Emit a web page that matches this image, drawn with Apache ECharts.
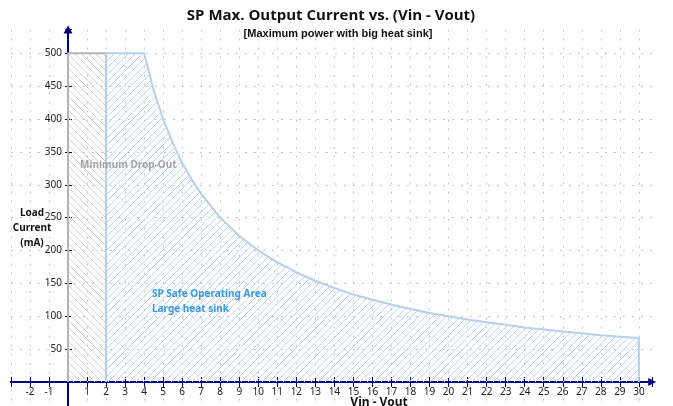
<!DOCTYPE html>
<html>
<head>
<meta charset="utf-8">
<script src="https://cdn.jsdelivr.net/npm/echarts@6/dist/echarts.min.js"></script>
<style>
  html, body { margin: 0; padding: 0; background: #fff; }
  #chart { width: 673px; height: 406px; }
</style>
</head>
<body>
<div id="chart"></div>
<script>
// minimum drop-out region (Vin - Vout, mA)
const dropX = [0, 0, 2, 2];
const dropY = [0, 500, 500, 0];
// safe operating area, big heat sink
const soaX = [2, 2, 4, 4.5, 5, 5.5, 6, 6.5, 7, 8, 9, 10, 11, 12, 13, 14, 15, 16, 17, 18, 19, 20, 21, 22, 23, 24, 25, 26, 27, 28, 29, 30, 30];
const soaY = [0, 500, 500, 444, 400, 364, 333, 308, 286, 250, 222, 200, 182, 167, 154, 143, 133, 125, 118, 111, 105, 100, 95, 91, 87, 83, 80, 77, 74, 71, 69, 67, 0];
// tick labels shown
const xTicks = [-2, -1, 1, 2, 3, 4, 5, 6, 7, 8, 9, 10, 11, 12, 13, 14, 15, 16, 17, 18, 19, 20, 21, 22, 23, 24, 25, 26, 27, 28, 29, 30];
const yTicks = [50, 100, 150, 200, 250, 300, 350, 400, 450, 500];

const navy = '#000080';
const tickFont = 'Noto Sans';

// grid box: x -3..30.7, y -50..536 -> origin lands at (68, 382)
const gLeft = 10.9, gRight = 20.8, gTop = 29.6, gBottom = -8.9;
const W = 673, H = 406;
const zeroX = 68.0, zeroY = 382.0;

// diagonal hatch pattern
function hatch(color, dir, size) {
  const c = document.createElement('canvas');
  c.width = c.height = size;
  const g = c.getContext('2d');
  g.strokeStyle = color;
  g.lineWidth = 1;
  g.beginPath();
  if (dir > 0) {
    g.moveTo(-1, size + 1); g.lineTo(size + 1, -1);
    g.moveTo(-1, 1); g.lineTo(1, -1);
    g.moveTo(size - 1, size + 1); g.lineTo(size + 1, size - 1);
  } else {
    g.moveTo(-1, -1); g.lineTo(size + 1, size + 1);
    g.moveTo(size - 1, -1); g.lineTo(size + 1, 1);
    g.moveTo(-1, size - 1); g.lineTo(1, size + 1);
  }
  g.stroke();
  return { image: c, repeat: 'repeat' };
}

const zip = (xs, ys) => xs.map((x, i) => [x, ys[i]]);

const chart = echarts.init(document.getElementById('chart'));
chart.setOption({
  animation: false,
  grid: { left: gLeft, right: gRight, top: gTop, bottom: gBottom, outerBoundsMode: 'none', containLabel: false },
  xAxis: [
    {
      type: 'value', min: -3, max: 30.7, interval: 1, position: 'bottom',
      offset: -(H - gBottom - zeroY),
      axisLine: { onZero: false, lineStyle: { color: navy, width: 2 }, symbol: ['none', 'triangle'], symbolSize: [8, 8] },
      axisTick: { length: 5, lineStyle: { color: navy } },
      axisLabel: {
        margin: 5, fontSize: 10, fontFamily: tickFont, color: '#222',
        formatter: v => xTicks.includes(v) ? String(v) : ''
      },
      splitLine: { show: true, showMaxLine: false, lineStyle: { color: '#c4c4c4', type: [2, 7] } }
    },
    {
      type: 'value', min: -3, max: 30.7, interval: 1, position: 'top',
      offset: -(zeroY - gTop),
      axisLine: { onZero: false, lineStyle: { color: navy, width: 2 } },
      axisTick: { length: 5, lineStyle: { color: navy } },
      axisLabel: { show: false },
      splitLine: { show: false }
    }
  ],
  yAxis: [
    {
      type: 'value', min: -50, max: 536, interval: 50, position: 'left',
      offset: -(zeroX - gLeft),
      axisLine: { onZero: false, lineStyle: { color: navy, width: 2 }, symbol: ['none', 'triangle'], symbolSize: [9, 8] },
      axisTick: { length: 3, lineStyle: { color: navy } },
      axisLabel: {
        margin: 6, fontSize: 10, fontFamily: tickFont, color: '#222',
        formatter: v => yTicks.includes(v) ? String(v) : ''
      },
      splitLine: { show: true, showMaxLine: false, lineStyle: { color: '#c4c4c4', type: [2, 7] } }
    },
    {
      type: 'value', min: -50, max: 536, interval: 50, position: 'right',
      offset: -(W - gRight - zeroX),
      axisLine: { onZero: false, lineStyle: { color: navy, width: 2 } },
      axisTick: { length: 4, lineStyle: { color: navy } },
      axisLabel: { show: false },
      splitLine: { show: false }
    }
  ],
  series: [
    {
      name: 'Minimum Drop-Out', type: 'line', symbol: 'none',
      data: zip(dropX, dropY),
      lineStyle: { color: '#b4b4b4', width: 2 },
      areaStyle: { color: hatch('#d2d2d2', -1, 7), opacity: 1 }
    },
    {
      name: 'SP Safe Operating Area', type: 'line', symbol: 'none',
      data: zip(soaX, soaY),
      lineStyle: { color: '#b4d0ee', width: 2 },
      areaStyle: { color: hatch('#bad4f1', 1, 7), opacity: 1 }
    }
  ],
  graphic: [
    { type: 'text', x: 331, y: 16, z: 100, style: { text: 'SP Max. Output Current vs. (Vin - Vout)', font: 'bold 15px "Open Sans"', fill: '#111', align: 'center', verticalAlign: 'middle' } },
    { type: 'text', x: 338, y: 34, z: 100, style: { text: '[Maximum power with big heat sink]', font: 'bold 11px "Liberation Sans"', fill: '#111', align: 'center', verticalAlign: 'middle' } },
    { type: 'text', x: 32, y: 228, z: 100, style: { text: 'Load\nCurrent\n(mA)', font: 'bold 10px "Noto Sans"', lineHeight: 15, fill: '#111', align: 'center', verticalAlign: 'middle' } },
    { type: 'text', x: 379, y: 403, z: 100, style: { text: 'Vin - Vout', font: 'bold 12px "Noto Sans"', fill: '#111', align: 'center', verticalAlign: 'middle' } },
    { type: 'text', x: 80, y: 165, z: 100, style: { text: 'Minimum Drop-Out', font: 'bold 10px "Noto Sans"', fill: '#a4a4a4', align: 'left', verticalAlign: 'middle' } },
    { type: 'text', x: 152, y: 287, z: 100, style: { text: 'SP Safe Operating Area\nLarge heat sink', font: 'bold 10px "Noto Sans"', lineHeight: 15, fill: '#3399e8', align: 'left', verticalAlign: 'top' } }
  ]
});
</script>
</body>
</html>
